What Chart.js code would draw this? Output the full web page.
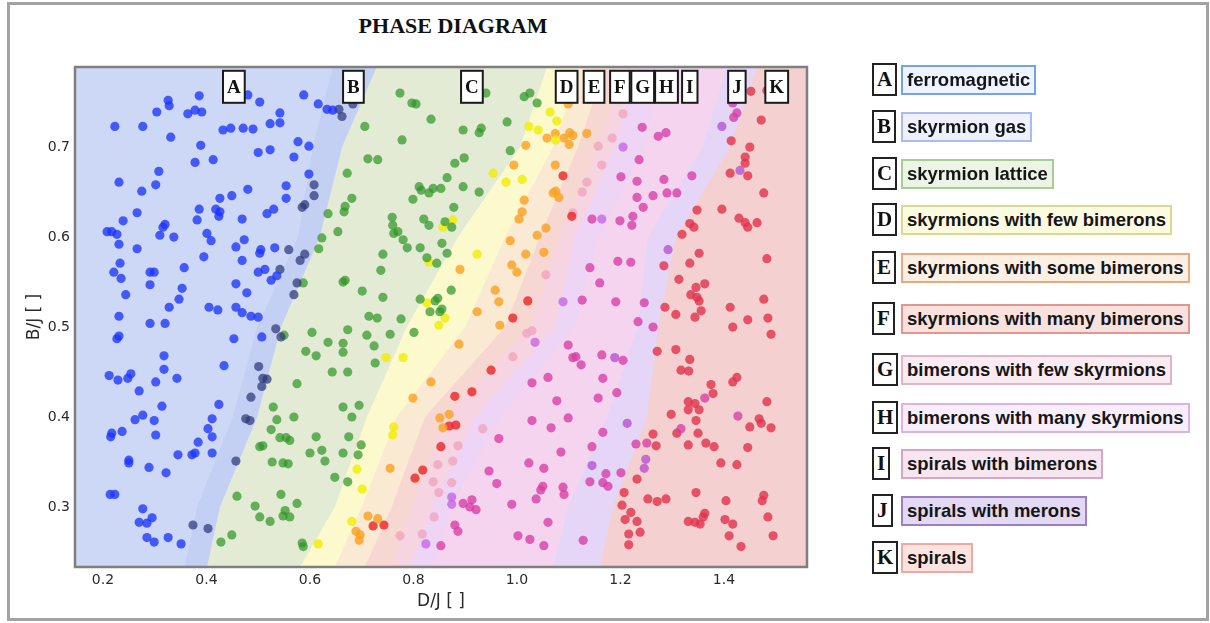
<!DOCTYPE html>
<html>
<head>
<meta charset="utf-8">
<title>Phase diagram</title>
<script src="https://cdn.jsdelivr.net/npm/chart.js@4.4.1/dist/chart.umd.min.js"></script>
<style>
  html, body { margin: 0; padding: 0; background: #fff; }
  #stage { position: relative; width: 1210px; height: 623px; overflow: hidden; }
  #frame { position: absolute; left: 7px; top: 2px; width: 1196px; height: 613px; border: 3px solid #a3a3a3; }
  #title { position: absolute; left: 343px; width: 220px; top: 13px; text-align: center;
           font: bold 22px "Liberation Serif", "DejaVu Serif", serif; color: #111; line-height: 25px; }
  #chart { position: absolute; left: 0; top: 0; }
  .key { position: absolute; box-sizing: border-box; height: 33px; border: 2px solid #222; background: #fff;
         font: bold 21px "Liberation Serif", serif; line-height: 29px; padding: 0 3px; color: #111; }
  .name { position: absolute; box-sizing: border-box; height: 30px; border: 2px solid; padding: 0 4px;
          font: bold 18.5px "Liberation Sans", Arial, sans-serif; line-height: 26px; color: #161616; white-space: nowrap; }
</style>
</head>
<body>
<div id="stage">
  <div id="frame"></div>
  <div id="title">PHASE DIAGRAM</div>
  <canvas id="chart" width="1210" height="623"></canvas>
  <div id="legend"></div>
</div>
<script>
// ---- phases ----
const phaseKeys = ['A', 'B', 'C', 'D', 'E', 'F', 'G', 'H', 'I', 'J', 'K'];
const phaseNames = ['ferromagnetic', 'skyrmion gas', 'skyrmion lattice', 'skyrmions with few bimerons',
  'skyrmions with some bimerons', 'skyrmions with many bimerons', 'bimerons with few skyrmions',
  'bimerons with many skyrmions', 'spirals with bimerons', 'spirals with merons', 'spirals'];
// D/J where each phase key is marked along the top of the diagram, and the B/J level of those marks
const keyPositions = [0.453, 0.684, 0.913, 1.096, 1.149, 1.199, 1.243, 1.289, 1.334, 1.425, 1.502];
const keyLevel = 0.767;

// ---- axes ----
const X_MIN = 0.146, X_MAX = 1.5605;
const Y_MIN = 0.2333, Y_MAX = 0.789;
const xTicks = [0.2, 0.4, 0.6, 0.8, 1.0, 1.2, 1.4];
const yTicks = [0.3, 0.4, 0.5, 0.6, 0.7];

// ---- phase boundaries: D/J of each boundary at these B/J levels ----
const boundaryLevels = [Y_MIN, 0.3, 0.4, 0.5, 0.6, 0.7, Y_MAX];
const edgeAB = [0.358, 0.382, 0.451, 0.498, 0.577, 0.606, 0.644];
const edgeBC = [0.401, 0.426, 0.498, 0.544, 0.619, 0.662, 0.729];
const edgeCD = [0.581, 0.648, 0.710, 0.787, 0.886, 1.006, 1.058];
const edgeDE = [0.648, 0.700, 0.768, 0.900, 0.977, 1.070, 1.122];
const edgeEF = [0.706, 0.758, 0.822, 0.977, 1.044, 1.118, 1.170];
const edgeFG = [0.758, 0.797, 0.861, 1.025, 1.083, 1.157, 1.209];
const edgeGH = [0.793, 0.836, 0.919, 1.073, 1.112, 1.189, 1.232];
const edgeHI = [0.836, 0.874, 0.967, 1.112, 1.157, 1.247, 1.276];
const edgeIJ = [1.070, 1.099, 1.174, 1.234, 1.253, 1.359, 1.406];
const edgeJK = [1.160, 1.186, 1.251, 1.273, 1.307, 1.412, 1.464];

// ---- sampled states [D/J, B/J] per phase ----
const ferromagnetic = [
  [0.223,0.723],[0.277,0.723],[0.326,0.752],[0.328,0.746],[0.304,0.739],[0.386,0.757],[0.364,0.737],[0.378,0.741],
  [0.391,0.739],[0.331,0.711],[0.389,0.702],[0.378,0.683],[0.413,0.686],[0.308,0.673],[0.231,0.661],[0.302,0.658],
  [0.275,0.651],[0.266,0.627],[0.239,0.618],[0.208,0.606],[0.217,0.606],[0.227,0.603],[0.231,0.592],[0.266,0.587],
  [0.233,0.571],[0.221,0.561],[0.235,0.554],[0.244,0.536],[0.231,0.512],[0.291,0.561],[0.299,0.561],[0.291,0.547],
  [0.310,0.602],[0.320,0.614],[0.316,0.611],[0.337,0.600],[0.357,0.566],[0.353,0.543],[0.347,0.531],[0.328,0.522],
  [0.291,0.504],[0.320,0.504],[0.386,0.631],[0.382,0.619],[0.426,0.643],[0.449,0.646],[0.480,0.653],[0.418,0.631],
  [0.426,0.628],[0.424,0.623],[0.401,0.604],[0.409,0.596],[0.395,0.578],[0.469,0.620],[0.457,0.589],[0.473,0.597],
  [0.469,0.574],[0.457,0.548],[0.478,0.538],[0.405,0.522],[0.422,0.519],[0.457,0.522],[0.469,0.516],[0.486,0.512],
  [0.500,0.511],[0.500,0.561],[0.513,0.564],[0.525,0.552],[0.536,0.557],[0.503,0.582],[0.505,0.586],[0.532,0.588],
  [0.517,0.626],[0.530,0.631],[0.554,0.657],[0.554,0.643],[0.598,0.670],[0.569,0.689],[0.577,0.706],[0.598,0.701],
  [0.500,0.694],[0.523,0.697],[0.523,0.726],[0.542,0.727],[0.542,0.738],[0.503,0.750],[0.480,0.758],[0.432,0.719],
  [0.447,0.721],[0.471,0.721],[0.490,0.720],[0.588,0.758],[0.616,0.748],[0.633,0.742],[0.644,0.741],
  [0.453,0.487],[0.507,0.489],[0.231,0.490],[0.227,0.487],[0.318,0.468],[0.318,0.453],[0.434,0.457],[0.212,0.446],
  [0.229,0.441],[0.248,0.443],[0.254,0.448],[0.302,0.439],[0.343,0.443],[0.270,0.429],[0.314,0.412],[0.424,0.414],
  [0.277,0.402],[0.262,0.397],[0.299,0.396],[0.411,0.398],[0.403,0.387],[0.411,0.378],[0.217,0.382],[0.215,0.378],
  [0.237,0.384],[0.302,0.380],[0.384,0.372],[0.411,0.360],[0.372,0.358],[0.378,0.360],[0.345,0.358],[0.250,0.352],
  [0.250,0.349],[0.289,0.344],[0.322,0.338],[0.214,0.314],[0.223,0.314],[0.277,0.298],[0.270,0.283],[0.285,0.282],
  [0.295,0.288],[0.285,0.266],[0.299,0.261],[0.326,0.266],[0.351,0.259]
];
const skyrmionGas = [
  [0.656,0.742],[0.662,0.734],[0.683,0.748],[0.608,0.658],[0.608,0.646],[0.585,0.633],[0.590,0.636],[0.559,0.586],
  [0.581,0.574],[0.590,0.581],[0.542,0.564],[0.575,0.549],[0.569,0.536],[0.534,0.498],[0.544,0.489],[0.501,0.456],
  [0.509,0.443],[0.517,0.442],[0.507,0.434],[0.486,0.422],[0.476,0.398],[0.484,0.396],[0.457,0.351],[0.374,0.280],
  [0.403,0.276]
];
const skyrmionLattice = [
  [0.774,0.760],[0.797,0.749],[0.805,0.748],[0.706,0.723],[0.834,0.731],[0.778,0.708],[0.712,0.687],[0.731,0.686],
  [0.672,0.671],[0.681,0.643],[0.668,0.634],[0.666,0.628],[0.635,0.626],[0.654,0.606],[0.623,0.599],[0.617,0.587],
  [0.811,0.656],[0.815,0.652],[0.830,0.649],[0.838,0.654],[0.853,0.654],[0.799,0.642],[0.759,0.622],[0.760,0.613],
  [0.762,0.604],[0.770,0.606],[0.780,0.597],[0.820,0.620],[0.830,0.613],[0.813,0.588],[0.788,0.588],[0.741,0.581],
  [0.737,0.563],[0.664,0.550],[0.668,0.552],[0.701,0.540],[0.741,0.533],[0.813,0.531],[0.776,0.509],[0.714,0.512],
  [0.730,0.510],[0.587,0.549],[0.550,0.491],[0.604,0.494],[0.673,0.497],[0.710,0.491],[0.755,0.492],[0.801,0.494],
  [0.635,0.483],[0.664,0.482],[0.664,0.472],[0.592,0.473],[0.612,0.468],[0.724,0.479],[0.726,0.460],[0.643,0.450],
  [0.673,0.450],[0.575,0.437],[0.529,0.411],[0.536,0.397],[0.525,0.386],[0.569,0.400],[0.664,0.411],[0.695,0.413],
  [0.681,0.400],[0.542,0.377],[0.554,0.377],[0.561,0.374],[0.612,0.378],[0.675,0.378],[0.699,0.369],[0.503,0.367],
  [0.509,0.368],[0.600,0.360],[0.623,0.363],[0.629,0.351],[0.664,0.360],[0.693,0.358],[0.527,0.350],[0.548,0.349],
  [0.558,0.348],[0.648,0.333],[0.673,0.328],[0.459,0.312],[0.544,0.314],[0.494,0.301],[0.503,0.289],[0.523,0.284],
  [0.575,0.304],[0.552,0.296],[0.548,0.290],[0.561,0.289],[0.449,0.269],[0.428,0.261],[0.585,0.260],[0.587,0.256],
  [0.896,0.719],[0.931,0.721],[0.927,0.716],[0.940,0.760],[1.014,0.756],[1.025,0.760],[1.039,0.749],[0.981,0.728],
  [0.987,0.696],[0.898,0.688],[0.880,0.682],[0.865,0.666],[0.896,0.656],[0.927,0.650],[0.878,0.633],[0.861,0.617],
  [0.874,0.611],[0.855,0.593],[0.826,0.577],[0.845,0.571],[0.865,0.582],[0.873,0.541],[0.847,0.532],[0.842,0.529],
  [0.832,0.517],[0.855,0.520],[0.851,0.517]
];
const fewBimerons = [
  [1.064,0.739],[1.077,0.729],[1.023,0.723],[1.041,0.719],[1.075,0.708],[0.954,0.671],[0.979,0.661],[1.010,0.664],
  [0.876,0.619],[0.857,0.611],[0.923,0.581],[0.830,0.572],[0.826,0.527],[0.861,0.510],[0.849,0.502],[0.747,0.466],
  [0.780,0.466],[0.762,0.389],[0.760,0.380],[0.691,0.342],[0.701,0.320],[0.681,0.284],[0.616,0.259]
];
const someBimerons = [
  [1.099,0.748],[1.058,0.710],[1.074,0.715],[1.091,0.710],[1.102,0.716],[1.108,0.713],[1.101,0.703],[1.135,0.715],
  [1.017,0.702],[0.994,0.680],[1.074,0.680],[1.014,0.641],[1.010,0.628],[1.004,0.620],[1.075,0.651],[1.081,0.644],
  [1.070,0.649],[0.987,0.596],[1.039,0.602],[1.056,0.610],[1.017,0.581],[1.052,0.583],[0.890,0.564],[0.990,0.569],
  [1.000,0.561],[0.958,0.541],[0.965,0.528],[0.923,0.517],[0.967,0.502],[0.888,0.481],[0.834,0.439],[0.799,0.421],
  [0.851,0.399],[0.869,0.403],[0.857,0.388],[0.755,0.343],[0.712,0.290],[0.731,0.287],[0.689,0.273],[0.697,0.269],
  [0.695,0.263]
];
const manyBimerons = [
  [1.089,0.668],[1.106,0.623],[1.021,0.529],[0.992,0.510],[0.950,0.452],[0.880,0.423],[0.913,0.428],[0.869,0.390],
  [0.882,0.391],[0.853,0.367],[0.818,0.341],[0.803,0.332],[0.722,0.279],[0.743,0.280]
];
const bimeronsFewSkyrmions = [
  [1.205,0.737],[1.184,0.710],[1.157,0.701],[1.164,0.680],[1.135,0.661],[1.126,0.650],[1.108,0.627],[1.056,0.558],
  [1.019,0.493],[1.029,0.496],[0.992,0.467],[0.934,0.387],[0.886,0.368],[0.876,0.351],[0.847,0.347],[0.838,0.328],
  [0.874,0.327],[0.849,0.316],[0.840,0.289],[0.817,0.270],[0.774,0.268]
];
const bimeronsManySkyrmions = [
  [1.205,0.700],[1.164,0.620],[1.089,0.528],[1.035,0.483],[0.874,0.311],[0.874,0.303],[0.824,0.259]
];
const spiralsWithBimerons = [
  [1.242,0.722],[1.273,0.712],[1.288,0.716],[1.236,0.686],[1.201,0.667],[1.232,0.662],[1.284,0.664],[1.338,0.668],
  [1.232,0.644],[1.290,0.649],[1.309,0.649],[1.263,0.646],[1.244,0.633],[1.145,0.620],[1.199,0.618],[1.224,0.623],
  [1.222,0.613],[1.195,0.573],[1.220,0.572],[1.141,0.566],[1.160,0.549],[1.191,0.528],[1.126,0.530],[1.246,0.527],
  [1.234,0.506],[1.263,0.500],[1.099,0.480],[1.108,0.466],[1.114,0.467],[1.124,0.458],[1.164,0.469],[1.205,0.463],
  [1.029,0.438],[1.060,0.444],[1.166,0.443],[1.077,0.418],[1.157,0.421],[1.193,0.427],[1.029,0.396],[1.066,0.388],
  [1.099,0.399],[0.965,0.376],[1.085,0.361],[1.145,0.367],[1.166,0.383],[1.230,0.370],[1.251,0.371],[0.946,0.340],
  [0.961,0.326],[1.023,0.349],[1.052,0.343],[1.050,0.323],[1.046,0.319],[1.089,0.322],[1.091,0.314],[1.141,0.328],
  [1.172,0.337],[1.166,0.327],[1.176,0.323],[1.201,0.338],[0.896,0.304],[0.913,0.308],[0.909,0.300],[0.921,0.297],
  [0.990,0.303],[1.037,0.309],[0.880,0.280],[0.886,0.273],[1.060,0.283],[1.002,0.268],[1.025,0.264],[1.052,0.257],
  [1.128,0.263],[0.853,0.257],[1.417,0.749],[1.425,0.738],[1.419,0.733],[1.317,0.387],[1.363,0.421],[1.427,0.401]
];
const spiralsWithMerons = [
  [1.292,0.586],[1.189,0.466],[1.145,0.346],[1.249,0.353],[1.246,0.343],[1.213,0.393],[1.431,0.674],[1.396,0.723]
];
const spirals = [
  [1.452,0.762],[1.483,0.763],[1.472,0.730],[1.414,0.707],[1.450,0.700],[1.441,0.689],[1.441,0.682],[1.412,0.671],
  [1.446,0.668],[1.477,0.649],[1.396,0.631],[1.429,0.621],[1.441,0.616],[1.446,0.611],[1.464,0.616],[1.334,0.615],
  [1.342,0.611],[1.319,0.603],[1.348,0.630],[1.352,0.582],[1.334,0.571],[1.284,0.568],[1.483,0.576],[1.313,0.553],
  [1.346,0.544],[1.363,0.548],[1.336,0.536],[1.348,0.533],[1.352,0.529],[1.356,0.518],[1.344,0.511],[1.286,0.522],
  [1.307,0.514],[1.412,0.522],[1.417,0.500],[1.446,0.508],[1.477,0.531],[1.485,0.510],[1.491,0.492],[1.271,0.473],
  [1.307,0.475],[1.334,0.464],[1.317,0.452],[1.332,0.451],[1.417,0.439],[1.425,0.444],[1.375,0.436],[1.379,0.426],
  [1.331,0.417],[1.344,0.415],[1.331,0.408],[1.352,0.408],[1.298,0.403],[1.346,0.396],[1.483,0.417],[1.468,0.398],
  [1.472,0.393],[1.450,0.389],[1.491,0.388],[1.309,0.382],[1.350,0.382],[1.263,0.381],[1.269,0.368],[1.331,0.369],
  [1.365,0.371],[1.381,0.367],[1.446,0.366],[1.394,0.349],[1.425,0.347],[1.232,0.331],[1.207,0.316],[1.203,0.302],
  [1.220,0.294],[1.209,0.286],[1.232,0.284],[1.216,0.270],[1.238,0.272],[1.216,0.258],[1.253,0.309],[1.271,0.306],
  [1.288,0.309],[1.346,0.316],[1.404,0.307],[1.477,0.313],[1.474,0.307],[1.331,0.284],[1.344,0.283],[1.354,0.281],
  [1.360,0.289],[1.363,0.293],[1.402,0.286],[1.417,0.281],[1.485,0.289],[1.410,0.268],[1.433,0.256],[1.495,0.268]
];

// ---- styles ----
const regionFill = ['#cdd8f7', '#c3cff3', '#e3ebd4', '#fcf9cd', '#fbead3', '#f7d7d1', '#f6d4e2', '#eed4f5',
  '#f5d4ef', '#e5d5f7', '#f5d0d0'];
const pointColor = ['rgba(30,52,250,0.78)', 'rgba(45,55,120,0.72)', 'rgba(50,150,40,0.72)', 'rgba(240,236,0,0.8)',
  'rgba(250,160,30,0.8)', 'rgba(235,35,35,0.8)', 'rgba(240,165,190,0.8)', 'rgba(195,95,225,0.75)',
  'rgba(215,60,165,0.78)', 'rgba(180,75,205,0.75)', 'rgba(225,50,75,0.8)'];
const legendBorder = ['#70a2ef', '#a8bcf0', '#a7cc97', '#dada8c', '#eaa87c', '#e3958f', '#e0b5ca', '#dcb3e4',
  '#dba3c6', '#9c7ec4', '#efa9a1'];
const legendFill = ['#eef3fd', '#eef1fc', '#ecf4e5', '#fbfbe2', '#fcefe4', '#f9e1de', '#f9ebf1', '#f8eefa',
  '#f6e6ef', '#e3d9f3', '#fbe4e0'];
// legend row placement
const legendRowTop = [63, 110, 157, 203, 251, 302, 353, 401, 447, 494, 541];

const phaseSeries = [ferromagnetic, skyrmionGas, skyrmionLattice, fewBimerons, someBimerons, manyBimerons,
  bimeronsFewSkyrmions, bimeronsManySkyrmions, spiralsWithBimerons, spiralsWithMerons, spirals];
const boundaries = [edgeAB, edgeBC, edgeCD, edgeDE, edgeEF, edgeFG, edgeGH, edgeHI, edgeIJ, edgeJK];

// Each region from B onwards: everything to the right of its left boundary,
// painted in order so later phases cover the earlier ones.
const regionSets = boundaries.map((edge, i) => {
  const pts = edge.map((d, k) => ({ x: d, y: boundaryLevels[k] }));
  pts.push({ x: X_MAX + 0.05, y: Y_MAX }, { x: X_MAX + 0.05, y: Y_MIN });
  return {
    type: 'line', data: pts, fill: 'shape', backgroundColor: regionFill[i + 1],
    borderColor: 'transparent', borderWidth: 0, pointRadius: 0, tension: 0, order: 100 - i
  };
});

const pointSets = phaseSeries.map((series, i) => ({
  type: 'scatter', label: phaseNames[i],
  data: series.map(p => ({ x: p[0], y: p[1] })),
  pointRadius: 4.6, pointBackgroundColor: pointColor[i], pointBorderWidth: 0,
  pointHoverRadius: 4.6, order: 0
}));

const plotBackground = {
  id: 'plotBackground',
  beforeDatasetsDraw(chart) {
    const { ctx, chartArea: a } = chart;
    ctx.save();
    ctx.fillStyle = regionFill[0];
    ctx.fillRect(a.left, a.top, a.right - a.left, a.bottom - a.top);
    ctx.restore();
  }
};

const phaseKeyMarks = {
  id: 'phaseKeyMarks',
  afterDatasetsDraw(chart) {
    const { ctx, scales: { x, y } } = chart;
    ctx.save();
    ctx.font = 'bold 19px "Liberation Serif", serif';
    ctx.textAlign = 'center';
    ctx.textBaseline = 'middle';
    const cy = y.getPixelForValue(keyLevel);
    phaseKeys.forEach((k, i) => {
      const cx = x.getPixelForValue(keyPositions[i]);
      const w = ctx.measureText(k).width + 8;
      const h = 32;
      ctx.fillStyle = '#ffffff';
      ctx.fillRect(cx - w / 2, cy - h / 2, w, h);
      ctx.lineWidth = 2;
      ctx.strokeStyle = '#1a1a1a';
      ctx.strokeRect(cx - w / 2, cy - h / 2, w, h);
      ctx.fillStyle = '#111';
      ctx.fillText(k, cx, cy + 1);
    });
    ctx.restore();
  }
};

const plotFrame = {
  id: 'plotFrame',
  afterDraw(chart) {
    const { ctx, chartArea: a } = chart;
    ctx.save();
    ctx.lineWidth = 2.5;
    ctx.strokeStyle = '#7f7f7f';
    ctx.strokeRect(a.left, a.top, a.right - a.left, a.bottom - a.top);
    ctx.restore();
  }
};

const axisFont = { family: '"DejaVu Sans", sans-serif', size: 14 };
const titleFont = { family: '"DejaVu Sans", sans-serif', size: 17 };

new Chart(document.getElementById('chart'), {
  type: 'scatter',
  data: { datasets: [...pointSets, ...regionSets] },
  options: {
    responsive: false,
    devicePixelRatio: 1,
    animation: false,
    events: [],
    layout: { padding: { left: 0, top: 67, right: 403, bottom: 0 } },
    plugins: { legend: { display: false }, tooltip: { enabled: false }, title: { display: false } },
    scales: {
      x: {
        type: 'linear', min: X_MIN, max: X_MAX,
        grid: { display: false, drawTicks: false }, border: { display: false },
        afterBuildTicks: s => { s.ticks = xTicks.map(v => ({ value: v })); },
        afterFit: s => { s.height = 56; },
        ticks: { color: '#2a2a2a', font: axisFont, padding: 5, callback: v => v.toFixed(1) },
        title: { display: true, text: 'D/J [ ]', color: '#2a2a2a', font: titleFont, padding: { top: 0, bottom: 11 } }
      },
      y: {
        type: 'linear', min: Y_MIN, max: Y_MAX,
        grid: { display: false, drawTicks: false }, border: { display: false },
        afterBuildTicks: s => { s.ticks = yTicks.map(v => ({ value: v })); },
        afterFit: s => { s.width = 75; },
        ticks: { color: '#2a2a2a', font: axisFont, padding: 5, callback: v => v.toFixed(1) },
        title: { display: true, text: 'B/J [ ]', color: '#2a2a2a', font: titleFont, padding: { top: 24, bottom: 0 } }
      }
    }
  },
  plugins: [plotBackground, phaseKeyMarks, plotFrame]
});

// ---- phase legend ----
const legend = document.getElementById('legend');
phaseKeys.forEach((k, i) => {
  const top = legendRowTop[i];
  const key = document.createElement('div');
  key.className = 'key';
  key.textContent = k;
  key.style.left = '872px';
  key.style.top = top + 'px';
  const name = document.createElement('div');
  name.className = 'name';
  name.textContent = phaseNames[i];
  name.style.left = '901px';
  name.style.top = (top + 1.5) + 'px';
  name.style.borderColor = legendBorder[i];
  name.style.background = legendFill[i];
  legend.appendChild(key);
  legend.appendChild(name);
});
</script>
</body>
</html>
